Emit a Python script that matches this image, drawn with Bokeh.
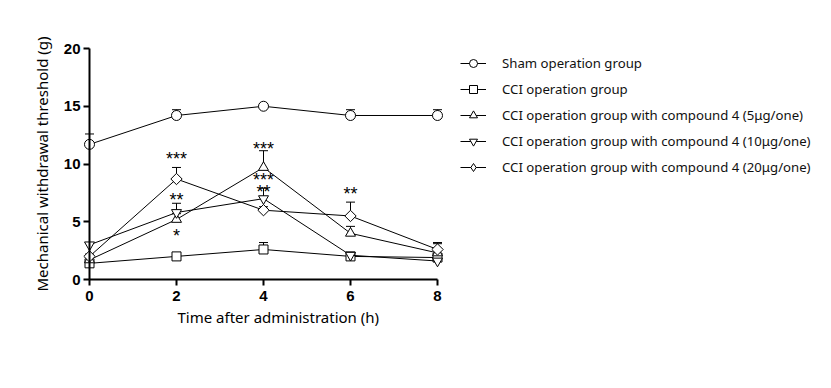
import math
from bokeh.plotting import figure
from bokeh.models import Range1d, FixedTicker, Legend, LegendItem, Title
from bokeh.embed import file_html
from bokeh.resources import INLINE
from bokeh.core.properties import value

# ---- data ----
times = [0, 2, 4, 6, 8]
sham = [11.7, 14.2, 15.0, 14.2, 14.2]
sham_err = [0.9, 0.5, 0.1, 0.5, 0.5]
cci = [1.4, 2.0, 2.6, 2.0, 1.9]
cci_err = [0.2, 0.1, 0.6, 0.1, 0.1]
c5 = [1.7, 5.2, 9.7, 4.0, 2.3]
c5_err = [0.2, 0.5, 1.45, 0.6, 0.8]
c10 = [3.0, 5.8, 7.0, 2.1, 1.6]
c10_err = [0.2, 0.8, 0.9, 0.1, 0.1]
c20 = [2.0, 8.7, 6.0, 5.5, 2.6]
c20_err = [0.2, 1.0, 0.3, 1.2, 0.6]

labels = [
    "Sham operation group",
    "CCI operation group",
    "CCI operation group with compound 4 (5\u03bcg/one)",
    "CCI operation group with compound 4 (10\u03bcg/one)",
    "CCI operation group with compound 4 (20\u03bcg/one)",
]
markers = ["circle", "square", "triangle", "inverted_triangle", "square"]
legend_markers = ["circle", "square", "triangle", "inverted_triangle", "diamond"]
angles = [0, 0, 0, 0, math.pi / 4]
sizes = [10, 9, 10, 10, 8]
legend_sizes = [10, 9, 10, 10, 13]

ann_x = [2, 2, 2, 4, 4, 4, 6]
ann_y = [10.4, 6.9, 3.8, 11.3, 8.6, 7.6, 7.4]
ann_text = ["***", "**", "*", "***", "***", "**", "**"]

x_ticks = [0, 2, 4, 6, 8]
y_ticks = [0, 5, 10, 15, 20]

series = [sham, cci, c5, c10, c20]
errors = [sham_err, cci_err, c5_err, c10_err, c20_err]

TICK_FONT = "Liberation Sans"
TEXT_FONT = "Noto Sans"

# layout: the axis spans 0..8 over 348 px; the frame extends further right to host the legend
W, H = 823, 372
LEFT, RIGHT, TOP, BOTTOM = 89, 0, 48, 93
AXIS_PX = 348
frame_w = W - LEFT - RIGHT
x_end = x_ticks[-1] * frame_w / AXIS_PX

p = figure(width=W, height=H, x_range=Range1d(0, x_end), y_range=Range1d(0, 20),
           output_backend="svg", toolbar_location=None,
           min_border_left=LEFT, min_border_right=RIGHT, min_border_top=TOP, min_border_bottom=BOTTOM)
p.outline_line_color = None
p.grid.visible = False
p.background_fill_color = "white"

for ax, ticks in ((p.xaxis[0], x_ticks), (p.yaxis[0], y_ticks)):
    ax.ticker = FixedTicker(ticks=ticks)
    ax.minor_tick_line_color = None
    ax.axis_line_width = 2
    ax.major_tick_line_width = 2
    ax.major_tick_out = 6
    ax.major_tick_in = 0
    ax.major_label_text_font = TICK_FONT
    ax.major_label_text_font_style = "bold"
    ax.major_label_text_font_size = "15px"
    ax.major_label_text_color = "black"
    ax.axis_label_text_font = TEXT_FONT
    ax.axis_label_text_font_style = "normal"
    ax.axis_label_text_font_size = "15px"
    ax.axis_label_text_color = "black"
    ax.level = "overlay"

p.xaxis.bounds = (x_ticks[0], x_ticks[-1])
p.xaxis.major_label_standoff = 5
p.yaxis.major_label_standoff = 3
p.yaxis.axis_label = "Mechanical withdrawal threshold (g)"
p.yaxis.axis_label_standoff = 9

xtitle = Title(text="Time after administration (h)", align="left", offset=88,
               text_font=TEXT_FONT, text_font_size="15px", text_font_style="normal",
               text_color="black", standoff=2)
p.add_layout(xtitle, "below")

items = []
for vals, errs in zip(series, errors):
    tops = [v + e for v, e in zip(vals, errs)]
    p.segment(x0=times, y0=vals, x1=times, y1=tops, line_color="black", line_width=1, level="annotation")
    p.scatter(x=times, y=tops, marker="dash", size=9, line_color="black", line_width=1, level="annotation")
for vals, mk, lmk, ang, sz, lsz, lab in zip(series, markers, legend_markers, angles, sizes, legend_sizes, labels):
    lr = p.line(x=times, y=vals, line_color="black", line_width=1, level="annotation")
    sr = p.scatter(x=times, y=vals, marker=mk, angle=ang, size=sz, line_color="black",
                   line_width=1, fill_color="white", level="annotation")
    if lmk != mk:
        # legend-only swatch (no data shown) so the legend shows the diamond shape
        sr = p.scatter(x=[float("nan")], y=[float("nan")], marker=lmk, size=lsz, line_color="black",
                       line_width=1, fill_color="white", level="annotation")
    items.append(LegendItem(label=lab, renderers=[lr, sr]))

p.text(x=ann_x, y=ann_y, text=ann_text, text_align="center", text_baseline="middle",
       text_font=value(TICK_FONT), text_font_size="18px", text_color="black", level="annotation")

legend = Legend(items=items, location=(371, 102), orientation="vertical",
                border_line_color=None, background_fill_alpha=0, padding=0, margin=0,
                spacing=6, glyph_width=26, glyph_height=20, label_height=20,
                label_standoff=16, label_text_font=TEXT_FONT, label_text_font_size="13.2px",
                label_text_color="#111111", label_text_font_style="normal")
p.add_layout(legend, "center")

open("out.html", "w").write(file_html(p, INLINE))
